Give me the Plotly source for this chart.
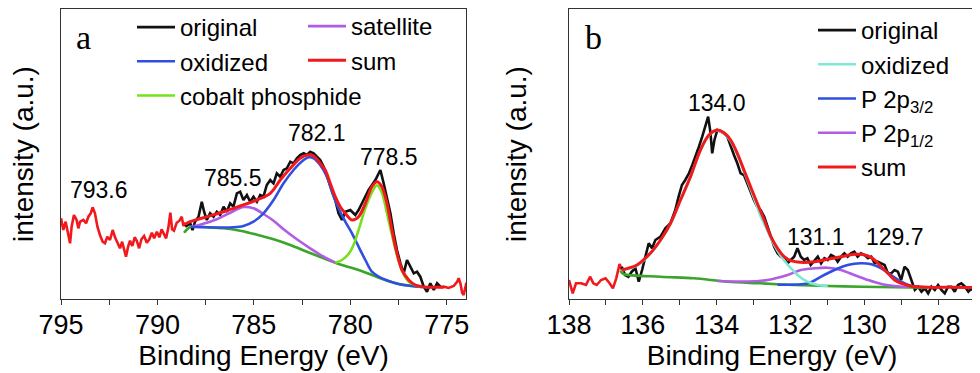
import plotly.graph_objects as go

# ---------------- panel a: Co 2p ----------------
# raw spectrum outside the fitted window (drawn red)
co_left_ev = [795.00, 794.88, 794.76, 794.62, 794.53, 794.45, 794.33, 794.19, 794.10, 794.01,
              793.84, 793.70, 793.58, 793.46, 793.36, 793.24, 793.11, 792.98, 792.84, 792.72,
              792.60, 792.46, 792.32, 792.20, 792.08, 791.94, 791.83, 791.73, 791.63, 791.52,
              791.42, 791.30, 791.18, 791.07, 790.95, 790.83, 790.69, 790.55, 790.42, 790.29,
              790.17, 790.03, 789.90, 789.78, 789.65, 789.55, 789.43, 789.33, 789.24, 789.14,
              789.00, 788.86, 788.74, 788.65, 788.56]
co_left_int = [80.7, 69, 77.3, 64, 55.7, 72.3, 84, 79, 70.7, 77.3,
               79, 75.7, 82.3, 85.7, 91.7, 85.7, 72.3, 64, 57.3, 55.7,
               62.3, 59, 69, 61.7, 56.3, 50.7, 57.3, 50.7, 42.3, 52.3,
               58.3, 53, 61.7, 58.3, 50.7, 59.7, 63, 56.3, 59.7, 66.3,
               60.7, 67.3, 61.7, 69.7, 65, 60.7, 71.7, 86.3, 69.7, 68.3,
               76.3, 78.3, 82.3, 73, 76.3]
co_right_ev = [775.33, 775.16, 774.90, 774.64, 774.46, 774.38, 774.29, 774.20, 774.12, 774.03, 773.98]
co_right_int = [11.7, 12.3, 11, 13, 17.3, 20.7, 15.7, 6.3, 4, 12.3, 16.3]

co_orig_ev = [788.56, 788.30, 788.18, 788.05, 787.87, 787.70, 787.58, 787.44, 787.27, 787.09,
              786.92, 786.75, 786.57, 786.40, 786.23, 786.06, 785.88, 785.71, 785.54, 785.36,
              785.19, 785.02, 784.84, 784.67, 784.50, 784.33, 784.15, 783.98, 783.81, 783.63,
              783.46, 783.29, 783.11, 782.94, 782.77, 782.60, 782.42, 782.25, 782.08, 781.90,
              781.73, 781.56, 781.38, 781.21, 781.04, 780.78, 780.61, 780.43, 780.26, 780.00,
              779.74, 779.57, 779.31, 779.05, 778.70, 778.44, 778.27, 778.10, 777.92, 777.75,
              777.58, 777.40, 777.23, 777.06, 776.89, 776.71, 776.54, 776.37, 776.19, 776.02,
              775.85, 775.67, 775.50, 775.33]
co_orig_int = [72.3, 75.7, 69, 77.3, 82.3, 97.3, 87.3, 79, 85.7, 82.3,
               87.3, 84, 92.3, 87.3, 95.7, 92.3, 105.7, 107.3, 99, 104,
               97.3, 102.3, 97.3, 104, 102.3, 114, 119, 115.7, 125.7, 122.3,
               129, 130.7, 137.3, 135.7, 140.7, 144, 145.7, 144, 147.3, 145.7,
               142.3, 139, 132.3, 122.3, 112.3, 99, 85.7, 79, 87.3, 89,
               84, 89, 99, 109, 119, 129, 115.7, 102.3, 85.7, 65.7,
               49, 35.7, 25.7, 39, 32.3, 25.7, 27.3, 22.3, 12.3, 7.3,
               15.7, 9, 15.7, 12.3]

co_sum_ev = [788.55, 788.30, 787.44, 786.57, 785.71, 784.84, 784.15, 783.63, 783.11, 782.60,
             782.25, 781.90, 781.56, 781.30, 781.04, 780.78, 780.52, 780.26, 779.91, 779.57,
             779.22, 778.88, 778.62, 778.36, 778.10, 777.84, 777.58, 777.32, 776.97, 776.63,
             776.28, 775.76, 775.16]
co_sum_int = [75, 77.3, 82.3, 87.3, 93, 99, 105.7, 119, 130.7, 140.7,
              144, 143, 135.7, 129, 115.7, 102.3, 92.3, 85.7, 79, 82.3,
              95.7, 112.3, 117.3, 112.3, 95.7, 69, 45.7, 29, 19, 14,
              12.3, 11.7, 11.7]

co_ox_ev = [788.27, 787.44, 786.06, 785.54, 785.02, 784.50, 783.98, 783.46, 782.94, 782.42,
            782.16, 781.90, 781.56, 781.21, 780.95, 780.61, 780.26, 779.91, 779.57, 779.22,
            778.88, 778.53, 778.01, 777.49, 776.80, 776.28]
co_ox_int = [72.3, 71.7, 71.7, 73, 77.3, 85.7, 99, 115.7, 129, 139,
             141.7, 140.7, 134, 122.3, 107.3, 90.7, 77.3, 65.7, 52.3, 39,
             27.3, 22.3, 18, 15, 13, 12]

co_bg_ev = [788.62, 788.27, 787.44, 786.57, 785.71, 784.84, 783.98, 783.11, 782.25, 781.38,
            780.78, 780.26, 779.57, 778.88, 778.18, 777.49, 776.80, 776.28]
co_bg_int = [66.3, 72.3, 71.7, 70.7, 68.3, 64.3, 59.7, 54, 47.3, 40.7,
             36.3, 33, 29, 24, 19, 15, 13, 12]

co_cop_ev = [780.78, 780.43, 780.09, 779.83, 779.57, 779.22, 778.88, 778.62, 778.36, 778.10,
             777.84, 777.58, 777.32, 776.97, 776.63, 776.28]
co_cop_int = [36.3, 39, 45, 54, 69, 90.7, 106.3, 113.7, 106.3, 85.7,
              64, 44, 28.3, 17.3, 14, 12]

co_sat_ev = [788.27, 787.79, 786.92, 786.23, 785.54, 785.02, 784.50, 783.98, 783.46, 782.77,
             782.08, 781.38, 780.78]
co_sat_int = [72.3, 74.3, 79.7, 86.3, 92, 90.7, 85, 78.3, 69.7, 59.7,
              50.7, 42.3, 36.3]

co_peak_labels = ["793.6", "785.5", "782.1", "778.5"]
co_peak_ev = [793.03, 786.06, 781.73, 778.01]
co_peak_int = [109, 120.7, 165.7, 142.3]

# ---------------- panel b: P 2p ----------------
p_left_ev = [138.00, 137.90, 137.81, 137.67, 137.54, 137.43, 137.34, 137.25, 137.13, 137.01,
             136.90, 136.81, 136.72, 136.63, 136.57]
p_left_int = [19, 5.7, 15.7, 15.7, 14, 22.3, 15.7, 14, 19, 20.7,
              15.7, 10.7, 20.7, 35, 29]

p_orig_ev = [136.57, 136.48, 136.39, 136.30, 136.20, 136.11, 136.02, 135.93, 135.84, 135.75,
             135.66, 135.52, 135.39, 135.25, 135.12, 135.03, 134.94, 134.85, 134.75, 134.66,
             134.57, 134.48, 134.39, 134.30, 134.23, 134.17, 134.12, 134.06, 133.98, 133.89,
             133.80, 133.71, 133.62, 133.53, 133.44, 133.35, 133.26, 133.17, 133.08, 132.99,
             132.90, 132.81, 132.71, 132.62, 132.53, 132.44, 132.35, 132.26, 132.17, 132.08,
             131.99, 131.90, 131.81, 131.72, 131.63, 131.54, 131.45, 131.35, 131.26, 131.17,
             131.08, 130.99, 130.90, 130.81, 130.72, 130.63, 130.54, 130.45, 130.36, 130.27,
             130.18, 130.09, 129.99, 129.90, 129.81, 129.72, 129.63, 129.54, 129.45, 129.36,
             129.27, 129.18, 129.09, 129.00, 128.91, 128.82, 128.73, 128.63, 128.54, 128.45,
             128.36, 128.27, 128.18, 128.09, 128.00, 127.91, 127.82, 127.73, 127.64, 127.55,
             127.46, 127.37, 127.27, 127.18, 127.09, 127.00, 126.96]
p_orig_int = [32.3, 24, 22.3, 27.3, 30.7, 17.3, 29, 42.3, 55.7, 50.7,
              59, 62.3, 70.7, 75.7, 89, 102.3, 114, 119, 125.7, 134,
              142.3, 152.3, 162.3, 174, 182.3, 167.3, 145.7, 159, 169, 167.3,
              165.7, 162.3, 152.3, 144, 135.7, 125.7, 124, 115.7, 105.7, 99,
              92.3, 89, 82.3, 72.3, 60.7, 52.3, 45.7, 42.3, 40.7, 35.7,
              39, 42.3, 50.7, 42.3, 39, 40.7, 34, 39, 42.3, 35.7,
              40.7, 39, 44, 42.3, 37.3, 42.3, 45.7, 42.3, 45.7, 47.3,
              42.3, 45.7, 44, 40.7, 42.3, 35.7, 37.3, 35.7, 34, 25.7,
              25.7, 29, 27.3, 19, 32.3, 29, 19, 9, 12.3, 7.3,
              10.7, 5.7, 12.3, 9, 14, 9, 5.7, 12.3, 12.3, 7.3,
              14, 15.7, 12.3, 7.3, 10.7, 5.7, 9]

p_sum_ev = [136.57, 136.16, 135.80, 135.52, 135.25, 134.98, 134.71, 134.44, 134.21, 133.98,
            133.80, 133.62, 133.44, 133.26, 133.08, 132.90, 132.71, 132.53, 132.35, 132.17,
            131.99, 131.72, 131.35, 130.99, 130.63, 130.27, 130.09, 129.90, 129.72, 129.54,
            129.36, 129.18, 129.00, 128.73, 128.27, 127.64, 126.96]
p_sum_int = [29, 34, 45.7, 59, 75.7, 99, 122.3, 149, 164, 169,
             166.3, 159, 145.7, 129, 112.3, 95.7, 79, 62.3, 50.7, 42.3,
             38.3, 36.7, 37.3, 39.7, 42.3, 44.7, 44.7, 43, 39, 32.3,
             25.7, 19, 15.7, 13, 11.7, 11.7, 11.3]

p_ox_ev = [136.57, 136.16, 135.80, 135.52, 135.25, 134.98, 134.71, 134.44, 134.21, 133.98,
           133.80, 133.62, 133.44, 133.26, 133.08, 132.90, 132.81, 132.62, 132.44, 132.26,
           132.08, 131.90, 131.81, 131.54, 131.26, 130.99]
p_ox_int = [28.5, 33.5, 45, 58.5, 75, 98.5, 121.5, 148.5, 163.5, 168.5,
            165.5, 158, 144.5, 127.5, 110, 92, 83, 68, 54, 43,
            34.5, 27.5, 24, 17.3, 14, 13.3]

p_bg_ev = [136.61, 136.52, 135.52, 134.62, 133.71, 132.81, 131.90, 130.99, 130.09, 129.18, 128.27]
p_bg_int = [28.3, 25, 22.3, 20.7, 17.3, 15.7, 14, 13, 12.3, 11.7, 11.3]

p_32_ev = [132.35, 131.54, 131.35, 131.17, 130.81, 130.45, 130.09, 129.81, 129.54, 129.27,
           129.00, 128.73, 128.36]
p_32_int = [14.3, 15.5, 18.5, 22.3, 29, 34, 35.7, 34.7, 30.7, 24,
            17.3, 13, 11.7]

p_12_ev = [133.98, 133.17, 132.62, 132.08, 131.72, 131.35, 130.99, 130.63, 130.27, 129.90,
           129.54, 129.18, 128.82]
p_12_int = [18, 17.5, 19, 24, 29, 30.7, 31.3, 29, 24, 19,
            15, 13, 12]

p_peak_labels = ["134.0", "131.1", "129.7"]
p_peak_ev = [133.98, 131.31, 129.18]
p_peak_int = [195.7, 62.3, 61.7]

# ---------------- styling ----------------
FONT = "Liberation Sans, Arial, sans-serif"
SERIF = "Liberation Serif, Times New Roman, serif"
FRAME = "#333333"
RED = "#f2191c"
BLACK = "#111111"
BLUE = "#2f4fe0"
GREEN_BG = "#3aa52a"
LIME = "#77e01c"
PURPLE = "#b05ce6"
CYAN = "#7fe8d2"

fig = go.Figure()


def add_line(x, y, color, name, show=True, xa="x", ya="y", legend="legend",
             width=2.6, smooth=True, rank=1000):
    fig.add_trace(go.Scatter(
        x=x, y=y, mode="lines", name=name,
        showlegend=show, legend=legend, legendrank=rank,
        line=dict(color=color, width=width, shape="spline" if smooth else "linear",
                  smoothing=0.9 if smooth else None),
        xaxis=xa, yaxis=ya, hoverinfo="skip"))


# panel a
add_line(co_left_ev, co_left_int, RED, "raw", show=False, smooth=False)
add_line(co_right_ev, co_right_int, RED, "raw", show=False, smooth=False)
add_line(co_orig_ev, co_orig_int, BLACK, "original", smooth=False, rank=1)
add_line(co_bg_ev, co_bg_int, GREEN_BG, "background", show=False)
add_line(co_sat_ev, co_sat_int, PURPLE, "satellite", legend="legend2", rank=1)
add_line(co_ox_ev, co_ox_int, BLUE, "oxidized", rank=2)
add_line(co_cop_ev, co_cop_int, LIME, "cobalt phosphide", rank=3)
add_line(co_sum_ev, co_sum_int, RED, "sum", legend="legend2", width=3, rank=2)

# panel b
add_line(p_left_ev, p_left_int, RED, "raw", show=False, xa="x2", ya="y2", smooth=False)
add_line(p_orig_ev, p_orig_int, BLACK, "original", xa="x2", ya="y2",
         legend="legend3", smooth=False, rank=1)
add_line(p_bg_ev, p_bg_int, GREEN_BG, "background", show=False, xa="x2", ya="y2")
add_line(p_12_ev, p_12_int, PURPLE, "P 2p<sub>1/2</sub>", xa="x2", ya="y2",
         legend="legend3", rank=4)
add_line(p_32_ev, p_32_int, BLUE, "P 2p<sub>3/2</sub>", xa="x2", ya="y2",
         legend="legend3", rank=3)
add_line(p_ox_ev, p_ox_int, CYAN, "oxidized", xa="x2", ya="y2",
         legend="legend3", rank=2)
add_line(p_sum_ev, p_sum_int, RED, "sum", xa="x2", ya="y2",
         legend="legend3", width=3, rank=5)

# the page body keeps its 8px default margin, so the figure is 8px smaller
# and every position below is given in figure pixels (screen - 8)
W, H = 972, 365
BOTTOM, TOP = 291, 1


def xaxis(left, right, rng, dtick, minor, anchor):
    return dict(domain=[left / W, right / W], range=rng, dtick=dtick, tick0=0,
                anchor=anchor, automargin=False,
                ticks="outside", ticklen=5, tickwidth=1.3, tickcolor=FRAME,
                ticklabelstandoff=-4,
                minor=dict(ticks="outside", dtick=minor, ticklen=5,
                           tickwidth=1.3, tickcolor=FRAME),
                showline=True, linecolor=FRAME, linewidth=1.3, mirror=True,
                showgrid=False, zeroline=False,
                tickfont=dict(size=27, color="black", family=FONT),
                title=dict(text="Binding Energy (eV)", standoff=0,
                           font=dict(size=28, color="black", family=FONT)))


def yaxis(anchor, standoff):
    return dict(domain=[(H - BOTTOM) / H, (H - TOP) / H], range=[0, BOTTOM - TOP],
                anchor=anchor, automargin=False,
                showticklabels=False, ticks="",
                showline=True, linecolor=FRAME, linewidth=1.3, mirror=True,
                showgrid=False, zeroline=False,
                title=dict(text="intensity (a.u.)", standoff=standoff,
                           font=dict(size=28, color="black", family=FONT)))


def legend(x, top):
    return dict(x=x / W, y=1 - top / H, xanchor="left", yanchor="top",
                bgcolor="rgba(0,0,0,0)", borderwidth=0, itemwidth=38,
                tracegroupgap=0, font=dict(size=24, color="black", family=FONT))


annotations = []
for t, xv, yv in zip(co_peak_labels, co_peak_ev, co_peak_int):
    annotations.append(dict(text=t, x=xv, y=yv, xref="x", yref="y", showarrow=False,
                            xanchor="center", yanchor="middle",
                            font=dict(size=23, color="black", family=FONT)))
for t, xv, yv in zip(p_peak_labels, p_peak_ev, p_peak_int):
    annotations.append(dict(text=t, x=xv, y=yv, xref="x2", yref="y2", showarrow=False,
                            xanchor="center", yanchor="middle",
                            font=dict(size=23, color="black", family=FONT)))
for t, px, py in [("a", 75, 29), ("b", 585, 29)]:
    annotations.append(dict(text=t, x=px / W, y=1 - py / H, xref="paper", yref="paper",
                            xanchor="center", yanchor="middle", showarrow=False,
                            font=dict(size=34, color="black", family=SERIF)))

fig.update_layout(
    width=W, height=H,
    margin=dict(l=0, r=0, t=0, b=0, autoexpand=False),
    paper_bgcolor="white", plot_bgcolor="white",
    font=dict(family=FONT, color="black"),
    xaxis=xaxis(53, 458, [795, 774], 5, 2.5, "y"),
    yaxis=yaxis("x", 36),
    xaxis2=xaxis(561, 967, [138, 127], 2, 1, "y2"),
    yaxis2=yaxis("x2", 33),
    legend=legend(124, -3),
    legend2=legend(295, -4),
    legend3=legend(805, 0),
    annotations=annotations,
    showlegend=True,
)

fig.write_html("out.html")
